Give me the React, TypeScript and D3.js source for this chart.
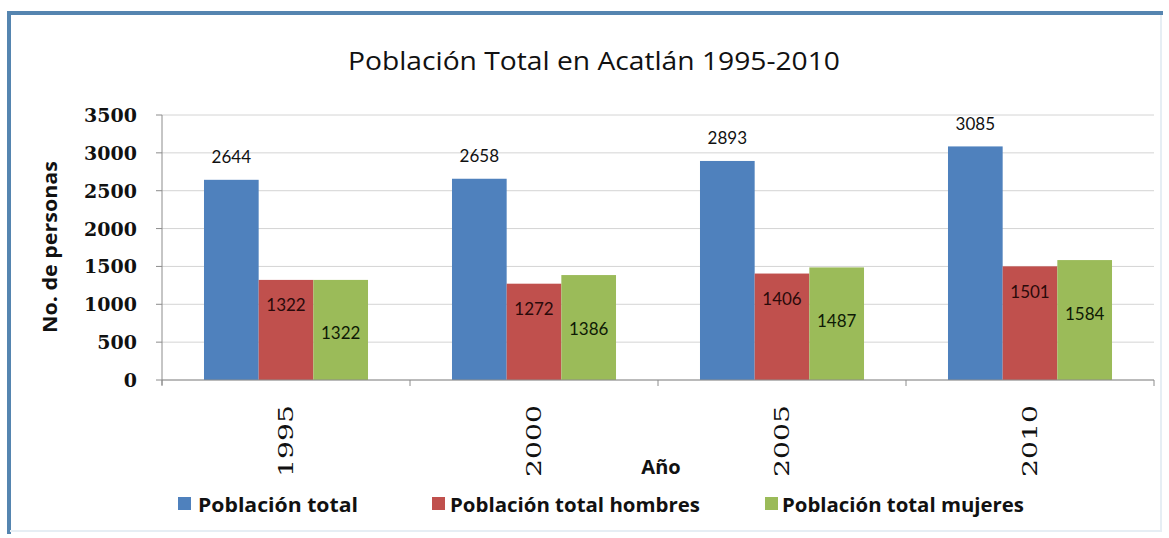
import React from "react";
import * as d3 from "d3";

const years = ["1995", "2000", "2005", "2010"];
const seriesNames = ["Población total", "Población total hombres", "Población total mujeres"];
const totalValues = [2644, 2658, 2893, 3085];
const menValues = [1322, 1272, 1406, 1501];
const womenValues = [1322, 1386, 1487, 1584];
const yTicks = [0, 500, 1000, 1500, 2000, 2500, 3000, 3500];
const colors = ["#4f81bd", "#c0504d", "#9bbb59"];

const W = 1169;
const H = 538;
const plot = { left: 162, right: 1154, top: 115, bottom: 380 };

export default function App() {
  const series = [totalValues, menValues, womenValues];
  const x = d3.scaleBand<string>().domain(years).range([plot.left, plot.right]).padding(0);
  const xs = d3
    .scaleBand<number>()
    .domain([0, 1, 2])
    .range([0, x.bandwidth()])
    .paddingInner(0)
    .paddingOuter(0.768);
  const y = d3.scaleLinear().domain([0, 3500]).range([plot.bottom, plot.top]);

  const sans = "Lato, 'Open Sans', sans-serif";
  const wide = "'Open Sans', Lato, sans-serif";
  const serif = "'DejaVu Serif', 'Liberation Serif', serif";

  const legendItems = [
    { sq: 178, tx: 198, len: 160 },
    { sq: 432, tx: 450, len: 250 },
    { sq: 765, tx: 782, len: 242 },
  ];

  return (
    <svg width={W} height={H} style={{ position: "absolute", left: 0, top: 0, background: "#fff" }}>
      {/* frame */}
      <rect x={0} y={0} width={W} height={H} fill="#ffffff" />
      <line x1={9} y1={13} x2={1163} y2={13} stroke="#5585b0" strokeWidth={4} />
      <line x1={9} y1={11} x2={9} y2={534} stroke="#5585b0" strokeWidth={4} />
      <line x1={1161} y1={15} x2={1161} y2={532} stroke="#e6eef4" strokeWidth={2} />
      <line x1={10} y1={531} x2={1162} y2={531} stroke="#e6eef4" strokeWidth={2} />

      {/* title */}
      <text
        x={594}
        y={70}
        textAnchor="middle"
        fontFamily={wide}
        fontSize={25}
        textLength={492}
        lengthAdjust="spacingAndGlyphs"
        fill="#111"
      >
        Población Total en Acatlán 1995-2010
      </text>

      {/* gridlines */}
      {yTicks.map((t) => (
        <line key={"g" + t} x1={plot.left} x2={plot.right} y1={y(t)} y2={y(t)} stroke="#d4d4d4" strokeWidth={1} />
      ))}

      {/* bars */}
      {years.map((yr, i) => (
        <g key={yr}>
          {series.map((vals, s) => (
            <rect
              key={s}
              x={(x(yr) as number) + (xs(s) as number)}
              y={y(vals[i])}
              width={xs.bandwidth()}
              height={plot.bottom - y(vals[i])}
              fill={colors[s]}
            />
          ))}
        </g>
      ))}

      {/* data labels */}
      {years.map((yr, i) =>
        series.map((vals, s) => {
          const cx = (x(yr) as number) + (xs(s) as number) + xs.bandwidth() / 2;
          const offsets = [-23, 25, 53];
          return (
            <text
              key={yr + s}
              x={cx}
              y={y(vals[i]) + offsets[s]}
              textAnchor="middle"
              dominantBaseline="central"
              fontFamily={sans}
              fontSize={17}
              fill={s === 1 ? "#2a0a0a" : s === 2 ? "#0e1a05" : "#111"}
            >
              {vals[i]}
            </text>
          );
        })
      )}

      {/* y axis */}
      <line x1={plot.left} x2={plot.left} y1={plot.top} y2={plot.bottom + 5} stroke="#8c8c8c" />
      {yTicks.map((t) => (
        <g key={"t" + t}>
          <line x1={plot.left - 6} x2={plot.left} y1={y(t)} y2={y(t)} stroke="#8c8c8c" />
          <text
            x={137}
            y={y(t)}
            textAnchor="end"
            dominantBaseline="central"
            fontFamily={serif}
            fontWeight="bold"
            fontSize={19}
            fill="#111"
          >
            {t}
          </text>
        </g>
      ))}

      {/* x axis */}
      <line x1={plot.left} x2={plot.right} y1={plot.bottom} y2={plot.bottom} stroke="#8c8c8c" />
      {[...years.map((yr) => x(yr) as number), plot.right].map((px, k) => (
        <line key={"xt" + k} x1={px} x2={px} y1={plot.bottom} y2={plot.bottom + 6} stroke="#8c8c8c" />
      ))}
      {years.map((yr) => {
        const cx = (x(yr) as number) + x.bandwidth() / 2;
        return (
          <text
            key={"xl" + yr}
            transform={`translate(${cx},${441}) rotate(-90)`}
            textAnchor="middle"
            dominantBaseline="central"
            fontFamily={serif}
            fontSize={20}
            textLength={72}
            lengthAdjust="spacingAndGlyphs"
            fill="#111"
          >
            {yr}
          </text>
        );
      })}

      {/* axis titles */}
      <text
        transform={`translate(50,247) rotate(-90)`}
        textAnchor="middle"
        dominantBaseline="central"
        fontFamily={wide}
        fontWeight="bold"
        fontSize={19}
        textLength={172}
        lengthAdjust="spacingAndGlyphs"
        fill="#111"
      >
        No. de personas
      </text>
      <text x={661} y={466} textAnchor="middle" dominantBaseline="central" fontFamily={wide} fontWeight="bold" fontSize={20} fill="#111">
        Año
      </text>

      {/* legend */}
      {seriesNames.map((name, s) => (
        <g key={"lg" + s}>
          <rect x={legendItems[s].sq} y={497} width={13} height={13} fill={colors[s]} />
          <text
            x={legendItems[s].tx}
            y={504}
            dominantBaseline="central"
            fontFamily={wide}
            fontWeight="bold"
            fontSize={20}
            textLength={legendItems[s].len}
            lengthAdjust="spacingAndGlyphs"
            fill="#111"
          >
            {name}
          </text>
        </g>
      ))}
    </svg>
  );
}
